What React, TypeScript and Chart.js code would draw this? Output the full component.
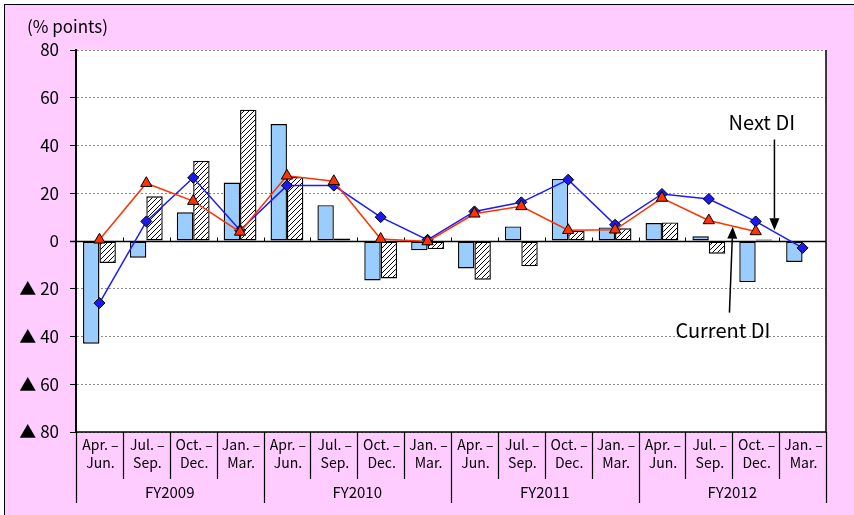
import React, { useEffect, useRef } from "react";
import { Chart, registerables } from "chart.js";

Chart.register(...registerables);

// ---- data ----
const quarterTop = ["Apr. –", "Jul. –", "Oct. –", "Jan. –"];
const quarterBottom = ["Jun.", "Sep.", "Dec.", "Mar."];
const fiscalYears = ["FY2009", "FY2010", "FY2011", "FY2012"];
const categories = fiscalYears.flatMap((fy) =>
  quarterTop.map((q, i) => `${fy} ${q}${quarterBottom[i]}`)
);

const barsLight = [-43, -7, 12, 24.5, 49, 15, -16.5, -3.9, -11.5, 6.1, 26, 5.7, 7.5, 2, -17.2, -8.8];
const barsHatched = [-9.2, 18.7, 33.6, 55, 26.8, 1, -15.7, -3.4, -16.2, -10.6, 4.2, 5.3, 7.8, -5.3, 0.6, null];
const nextDI = [-26, 8.2, 26.5, 4.5, 23.2, 23.2, 10, 0.5, 12.4, 16.2, 25.7, 6.8, 19.7, 17.6, 8.2, -2.9];
const currentDI = [0.5, 24.2, 16.7, 3.8, 27.3, 25, 0.8, -0.2, 11.4, 14.5, 4.5, 4.7, 18, 8.6, 4, null];

const yTicks = [-80, -60, -40, -20, 0, 20, 40, 60, 80];
const yUnit = "(% points)";

// annotation anchors in data space: [category index, value]
const annotations = [
  { text: "Next DI", textAt: [14.13, 49.5], from: [14.4, 42.5], to: [14.4, 4.5] },
  { text: "Current DI", textAt: [13.3, -37.5], from: [13.44, -30], to: [13.51, 6] },
];

const FONT = "'Noto Sans CJK JP', 'DejaVu Sans', sans-serif";

function makeHatch(): CanvasPattern | string {
  const c = document.createElement("canvas");
  c.width = 5;
  c.height = 5;
  const g = c.getContext("2d");
  if (!g) return "#fff";
  g.fillStyle = "#ffffff";
  g.fillRect(0, 0, 5, 5);
  g.strokeStyle = "#000000";
  g.lineWidth = 1;
  g.beginPath();
  g.moveTo(0, 5);
  g.lineTo(5, 0);
  g.moveTo(-1, 1);
  g.lineTo(1, -1);
  g.moveTo(4, 6);
  g.lineTo(6, 4);
  g.stroke();
  return g.createPattern(c, "repeat") || "#fff";
}

const framePlugin = {
  id: "frame",
  beforeDraw(chart: any) {
    const { ctx, chartArea: a } = chart;
    ctx.save();
    ctx.fillStyle = "#ffffff";
    ctx.fillRect(a.left, a.top, a.right - a.left, a.bottom - a.top);
    ctx.restore();
  },
  beforeDatasetsDraw(chart: any) {
    const { ctx, chartArea: a, scales } = chart;
    const y0 = Math.round(scales.y.getPixelForValue(0)) + 0.5;
    const x = scales.x;
    const half = (a.right - a.left) / categories.length / 2;
    ctx.save();
    ctx.strokeStyle = "#000";
    ctx.lineWidth = 1.5;
    ctx.beginPath();
    ctx.moveTo(a.left - 6, y0);
    ctx.lineTo(a.right, y0);
    ctx.stroke();
    ctx.lineWidth = 1;
    ctx.beginPath();
    for (let i = 1; i < categories.length; i++) {
      const px = Math.round(x.getPixelForValue(i) - half) + 0.5;
      ctx.moveTo(px, y0);
      ctx.lineTo(px, y0 - 4);
    }
    ctx.stroke();
    ctx.restore();
  },
  afterDraw(chart: any) {
    const { ctx, chartArea: a, scales } = chart;
    const x = scales.x;
    const y = scales.y;
    const half = (a.right - a.left) / categories.length / 2;
    ctx.save();
    // right and bottom borders
    ctx.strokeStyle = "#000";
    ctx.lineWidth = 1.5;
    ctx.beginPath();
    ctx.moveTo(a.right, a.top);
    ctx.lineTo(a.right, a.bottom);
    ctx.moveTo(a.left, a.bottom);
    ctx.lineTo(a.right, a.bottom);
    ctx.stroke();

    // x labels
    ctx.lineWidth = 1.2;
    ctx.beginPath();
    for (let i = 0; i <= categories.length; i++) {
      const px = Math.round(x.getPixelForValue(i) - half) + 0.5;
      const isYear = i % 4 === 0;
      ctx.moveTo(px, a.bottom);
      ctx.lineTo(px, a.bottom + (isYear ? 71 : 47));
    }
    ctx.stroke();
    ctx.fillStyle = "#000";
    ctx.font = `14px ${FONT}`;
    ctx.textAlign = "center";
    ctx.textBaseline = "middle";
    for (let i = 0; i < categories.length; i++) {
      const cx = x.getPixelForValue(i);
      ctx.fillText(quarterTop[i % 4], cx + 1, a.bottom + 13);
      ctx.fillText(quarterBottom[i % 4], cx + 1, a.bottom + 31);
    }
    ctx.font = `15px ${FONT}`;
    for (let f = 0; f < fiscalYears.length; f++) {
      const cx = (x.getPixelForValue(f * 4) + x.getPixelForValue(f * 4 + 3)) / 2;
      ctx.fillText(fiscalYears[f], cx, a.bottom + 60);
    }

    // unit label
    ctx.font = `17px ${FONT}`;
    ctx.textAlign = "left";
    ctx.fillText(yUnit, a.left - 49, a.top - 23);

    // annotations
    ctx.font = `20px ${FONT}`;
    ctx.textAlign = "center";
    ctx.lineWidth = 1.5;
    for (const an of annotations) {
      ctx.fillText(an.text, x.getPixelForValue(an.textAt[0]), y.getPixelForValue(an.textAt[1]));
      const x1 = x.getPixelForValue(an.from[0]);
      const y1 = y.getPixelForValue(an.from[1]);
      const x2 = x.getPixelForValue(an.to[0]);
      const y2 = y.getPixelForValue(an.to[1]);
      const ang = Math.atan2(y2 - y1, x2 - x1);
      const hl = 12;
      const hw = 5;
      const bx = x2 - hl * Math.cos(ang);
      const by = y2 - hl * Math.sin(ang);
      ctx.beginPath();
      ctx.moveTo(x1, y1);
      ctx.lineTo(bx, by);
      ctx.stroke();
      ctx.beginPath();
      ctx.moveTo(x2, y2);
      ctx.lineTo(bx + hw * Math.sin(ang), by - hw * Math.cos(ang));
      ctx.lineTo(bx - hw * Math.sin(ang), by + hw * Math.cos(ang));
      ctx.closePath();
      ctx.fill();
    }
    ctx.restore();
  },
};

export default function App() {
  const ref = useRef<HTMLCanvasElement | null>(null);

  useEffect(() => {
    if (!ref.current) return;
    const hatch = makeHatch();
    const chart = new Chart(ref.current, {
      type: "bar",
      data: {
        labels: categories,
        datasets: [
          {
            type: "line",
            label: "Current DI",
            data: currentDI,
            borderColor: "#ff3300",
            backgroundColor: "#ff3300",
            borderWidth: 1.5,
            pointStyle: "triangle",
            pointRadius: 6.5,
            pointBackgroundColor: "#ff3300",
            pointBorderColor: "#000",
            pointBorderWidth: 1,
            spanGaps: false,
            order: 0,
          },
          {
            type: "line",
            label: "Next DI",
            data: nextDI,
            borderColor: "#1a1aff",
            backgroundColor: "#1a1aee",
            borderWidth: 1.5,
            pointStyle: "rectRot",
            pointRadius: 5.5,
            pointBackgroundColor: "#1a1aee",
            pointBorderColor: "#000",
            pointBorderWidth: 1,
            order: 1,
          },
          {
            type: "bar",
            label: "Change (current)",
            data: barsLight,
            backgroundColor: "#99ccff",
            borderColor: "#000",
            borderWidth: 1.4,
            borderSkipped: false,
            categoryPercentage: 0.7,
            barPercentage: 1.0,
            order: 2,
          },
          {
            type: "bar",
            label: "Change (forecast)",
            data: barsHatched,
            backgroundColor: hatch as any,
            borderColor: "#000",
            borderWidth: 1.4,
            borderSkipped: false,
            categoryPercentage: 0.7,
            barPercentage: 1.0,
            order: 2,
          },
        ],
      },
      options: {
        responsive: false,
        animation: false,
        devicePixelRatio: 1,
        layout: { padding: { left: 0, top: 50, right: 28, bottom: 83 } },
        plugins: { legend: { display: false }, tooltip: { enabled: false } },
        scales: {
          x: { display: false },
          y: {
            min: -80,
            max: 80,
            afterBuildTicks: (s: any) => {
              s.ticks = yTicks.map((v) => ({ value: v }));
            },
            afterFit: (s: any) => {
              s.width = 76;
            },
            ticks: {
              color: "#000",
              padding: 11,
              font: { family: FONT, size: 17 },
              callback: (v: any) => (Number(v) < 0 ? `▲ ${-Number(v)}` : `${v}`),
            },
            grid: {
              color: (c: any) => (c.tick && c.tick.value === 0 ? "rgba(0,0,0,0)" : "#8a8a8a"),
              lineWidth: 1,
              tickLength: 6,
              tickColor: "#000",
              tickWidth: 1,
              tickBorderDash: [],
            },
            border: { display: true, color: "#000", width: 2, dash: [2, 2] },
          },
        },
      },
      plugins: [framePlugin],
    });
    return () => chart.destroy();
  }, []);

  return (
    <div style={{ position: "fixed", left: 0, top: 0, width: 854, height: 515, background: "#fff", overflow: "hidden" }}>
      <div
        style={{
          position: "absolute",
          left: 4,
          top: 4,
          width: 900,
          height: 600,
          background: "#ffccff",
          borderLeft: "1.5px solid #000",
          borderTop: "1.5px solid #000",
        }}
      />
      <canvas ref={ref} width={854} height={515} style={{ position: "absolute", left: 0, top: 0 }} />
    </div>
  );
}
